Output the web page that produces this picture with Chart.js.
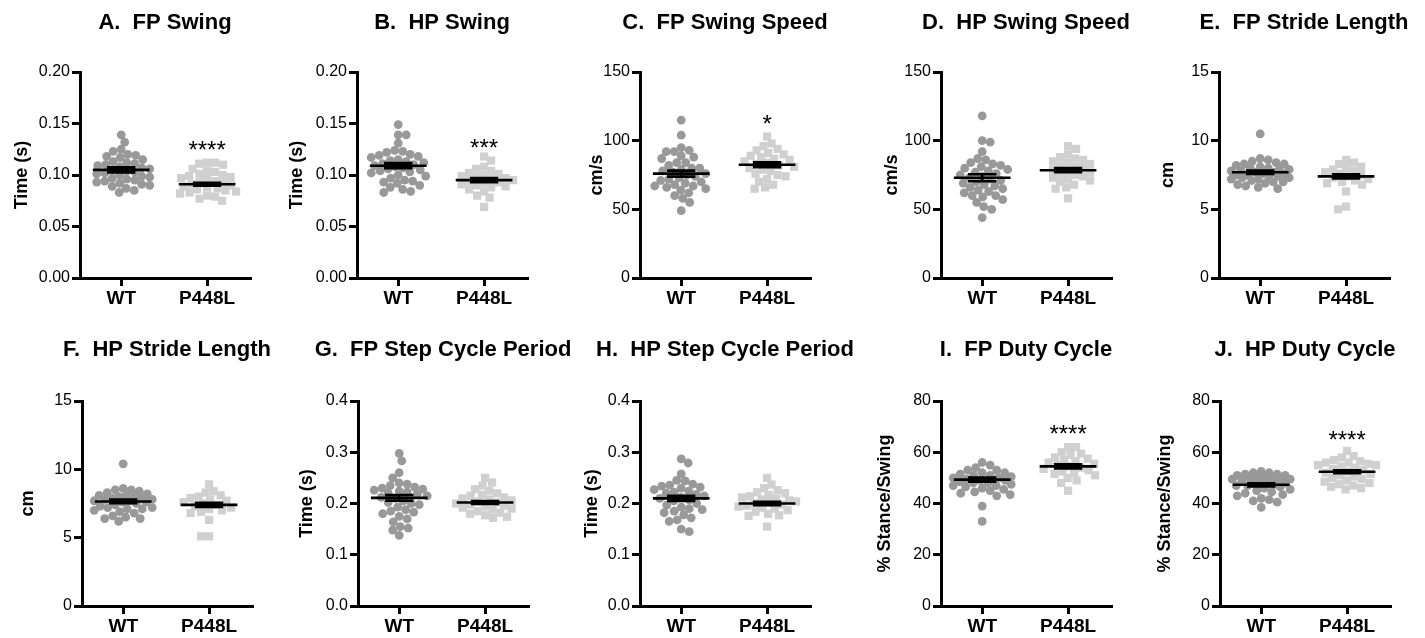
<!DOCTYPE html>
<html><head><meta charset="utf-8">
<script src="https://cdn.jsdelivr.net/npm/chart.js@4.4.1/dist/chart.umd.min.js"></script>
<style>
html,body{margin:0;padding:0;background:#fff;width:1425px;height:638px;overflow:hidden;position:relative}
canvas{position:absolute}
</style>
</head><body>
<script>
// ---------------- DATA ----------------
const categories = ['WT', 'P448L'];
const panelTitles = ['A.  FP Swing', 'B.  HP Swing', 'C.  FP Swing Speed', 'D.  HP Swing Speed', 'E.  FP Stride Length',
  'F.  HP Stride Length', 'G.  FP Step Cycle Period', 'H.  HP Step Cycle Period', 'I.  FP Duty Cycle', 'J.  HP Duty Cycle'];
const yTitles = ['Time (s)', 'Time (s)', 'cm/s', 'cm/s', 'cm', 'cm', 'Time (s)', 'Time (s)', '% Stance/Swing', '% Stance/Swing'];
const yTickLabels = [
  ['0.00', '0.05', '0.10', '0.15', '0.20'],
  ['0.00', '0.05', '0.10', '0.15', '0.20'],
  ['0', '50', '100', '150'],
  ['0', '50', '100', '150'],
  ['0', '5', '10', '15'],
  ['0', '5', '10', '15'],
  ['0.0', '0.1', '0.2', '0.3', '0.4'],
  ['0.0', '0.1', '0.2', '0.3', '0.4'],
  ['0', '20', '40', '60', '80'],
  ['0', '20', '40', '60', '80']
];

const wtA = [0.139, 0.132, 0.125, 0.123, 0.120, 0.119, 0.118, 0.117, 0.115, 0.113, 0.112, 0.111, 0.110, 0.109, 0.108, 0.107, 0.106, 0.105, 0.104, 0.103, 0.102, 0.101, 0.100, 0.099, 0.098, 0.097, 0.096, 0.095, 0.094, 0.093, 0.092, 0.091, 0.090, 0.089, 0.087, 0.085, 0.083];
const mutA = [0.112, 0.112, 0.111, 0.110, 0.106, 0.104, 0.103, 0.101, 0.100, 0.099, 0.098, 0.097, 0.096, 0.094, 0.093, 0.092, 0.091, 0.090, 0.089, 0.088, 0.087, 0.086, 0.085, 0.084, 0.083, 0.082, 0.080, 0.079, 0.077, 0.075];
const wtB = [0.149, 0.139, 0.139, 0.131, 0.124, 0.123, 0.122, 0.120, 0.119, 0.118, 0.117, 0.115, 0.114, 0.113, 0.112, 0.111, 0.110, 0.109, 0.108, 0.107, 0.106, 0.105, 0.104, 0.103, 0.102, 0.100, 0.099, 0.097, 0.095, 0.094, 0.093, 0.092, 0.090, 0.088, 0.086, 0.084, 0.083];
const mutB = [0.118, 0.114, 0.108, 0.106, 0.104, 0.102, 0.101, 0.100, 0.099, 0.098, 0.097, 0.096, 0.095, 0.094, 0.093, 0.092, 0.091, 0.090, 0.089, 0.088, 0.086, 0.084, 0.080, 0.078, 0.069];
const wtC = [115, 104, 95, 93, 92, 92, 89, 88, 87, 84, 84, 82, 80, 80, 79, 78, 77, 76, 75, 74, 73, 72, 71, 70, 69, 68, 67, 67, 66, 65, 64, 62, 60, 58, 55, 49];
const mutC = [103, 98, 96, 94, 93, 91, 90, 89, 88, 87, 86, 85, 84, 83, 82, 81, 80, 79, 78, 76, 75, 74, 72, 70, 68, 66, 65];
const wtD = [118, 100, 99, 92, 87, 86, 84, 83, 82, 81, 80, 79, 78, 77, 76, 75, 74, 73, 72, 71, 70, 69, 68, 67, 66, 65, 64, 63, 62, 60, 60, 59, 57, 55, 52, 50, 44];
const mutD = [96, 94, 90, 88, 87, 86, 85, 84, 83, 82, 81, 80, 79, 78, 77, 76, 75, 74, 73, 72, 71, 70, 68, 66, 65, 58];
const wtE = [10.5, 8.7, 8.6, 8.5, 8.4, 8.3, 8.3, 8.2, 8.1, 8.0, 8.0, 7.9, 7.9, 7.8, 7.8, 7.7, 7.7, 7.6, 7.6, 7.5, 7.5, 7.4, 7.4, 7.3, 7.3, 7.2, 7.2, 7.1, 7.0, 7.0, 6.9, 6.8, 6.7, 6.6, 6.5];
const mutE = [8.6, 8.4, 8.3, 8.1, 8.0, 7.9, 7.8, 7.7, 7.6, 7.5, 7.4, 7.3, 7.2, 7.1, 7.0, 6.9, 6.8, 6.3, 5.2, 5.0];
const wtF = [10.4, 8.6, 8.5, 8.5, 8.4, 8.3, 8.2, 8.1, 8.1, 8.0, 8.0, 7.9, 7.9, 7.8, 7.8, 7.7, 7.7, 7.6, 7.6, 7.5, 7.4, 7.3, 7.2, 7.2, 7.1, 7.1, 7.0, 6.9, 6.8, 6.6, 6.5, 6.4, 6.4, 6.2];
const mutF = [8.9, 8.4, 8.3, 8.1, 8.0, 7.9, 7.8, 7.7, 7.6, 7.5, 7.4, 7.3, 7.2, 7.1, 7.0, 6.9, 6.8, 6.3, 5.1, 5.1];
const wtG = [0.298, 0.283, 0.260, 0.250, 0.240, 0.238, 0.235, 0.232, 0.230, 0.228, 0.226, 0.224, 0.222, 0.220, 0.218, 0.215, 0.212, 0.210, 0.205, 0.202, 0.200, 0.198, 0.193, 0.188, 0.185, 0.183, 0.180, 0.175, 0.170, 0.164, 0.155, 0.152, 0.148, 0.138];
const mutG = [0.250, 0.241, 0.235, 0.228, 0.225, 0.220, 0.217, 0.215, 0.212, 0.210, 0.208, 0.206, 0.204, 0.202, 0.200, 0.198, 0.196, 0.194, 0.192, 0.190, 0.188, 0.185, 0.182, 0.180, 0.177, 0.174, 0.172];
const wtH = [0.287, 0.279, 0.258, 0.245, 0.244, 0.238, 0.236, 0.234, 0.232, 0.230, 0.227, 0.224, 0.222, 0.220, 0.218, 0.215, 0.212, 0.210, 0.207, 0.205, 0.200, 0.197, 0.193, 0.190, 0.188, 0.185, 0.182, 0.178, 0.172, 0.168, 0.165, 0.150, 0.145];
const mutH = [0.250, 0.237, 0.230, 0.226, 0.222, 0.220, 0.217, 0.214, 0.212, 0.210, 0.208, 0.206, 0.204, 0.202, 0.200, 0.198, 0.196, 0.194, 0.192, 0.190, 0.187, 0.184, 0.180, 0.177, 0.176, 0.155];
const wtI = [56, 55, 54, 53, 53, 52, 52, 51.5, 51, 51, 50.5, 50, 50, 49.5, 49, 49, 48.5, 48, 48, 47.5, 47, 47, 46.5, 46, 45.5, 45, 44.5, 44, 43.5, 43, 39, 33];
const mutI = [62, 62, 60, 59.5, 59, 58, 57.5, 57, 56.5, 56, 55.5, 55, 54.5, 54, 53.5, 53, 52.5, 52, 51.5, 51, 50, 49, 48, 45];
const wtJ = [52.5, 52, 52, 51.5, 51.5, 51, 51, 50.5, 50.5, 50, 50, 49.5, 49.5, 49, 49, 48.5, 48.5, 48, 48, 47.5, 47, 47, 46.5, 46, 45.5, 45, 44.5, 44, 43.5, 43, 42, 41.5, 41, 40.5, 38.5];
const mutJ = [60.5, 58.5, 58, 57, 56.5, 56, 56, 55.5, 55, 55, 54.5, 54, 53.5, 53, 52.5, 52, 51.5, 51, 50.5, 50, 49.5, 49, 48.5, 48, 47.5, 47, 46.5, 46, 45.5];

const meanWT  = [0.105, 0.109, 76, 73, 7.7, 7.65, 0.211, 0.210, 49.3, 47.3];
const semWT   = [0.0025, 0.0025, 2.2, 2.5, 0.13, 0.13, 0.0055, 0.005, 0.8, 0.6];
const meanMut = [0.091, 0.095, 82.5, 78.5, 7.4, 7.4, 0.202, 0.200, 54.5, 52.4];
const semMut  = [0.0015, 0.002, 1.8, 1.5, 0.15, 0.15, 0.003, 0.0035, 0.8, 0.6];
const sigLabels = ['****', '***', '*', '', '', '', '', '', '****', '****'];
const sigValues = [0.130, 0.132, 116.5, null, null, null, null, null, 69.6, 67];

const wtData  = [wtA, wtB, wtC, wtD, wtE, wtF, wtG, wtH, wtI, wtJ];
const mutData = [mutA, mutB, mutC, mutD, mutE, mutF, mutG, mutH, mutI, mutJ];

// ---------------- LAYOUT / STYLE ----------------
const FONT = '"Liberation Sans", Arial, Helvetica, sans-serif';
const X_MIN = 0.52, X_MAX = 2.5, AREA_W = 170, Y_AXIS_W = 80, EXTRA = 60;
const PX_PER_X = AREA_W / (X_MAX - X_MIN);
const MEAN_HALF = 0.33, CAP_HALF = 0.165;
const SWARM_DIAM = 8, SWARM_MAXHALF = 29;
const rows = [
  {top: 0,   h: 320, padTop: 72, xAxisH: 42, titleY: 29},
  {top: 320, h: 318, padTop: 81, xAxisH: 32, titleY: 36}
];
const axisLeft = [80, 357, 640, 941, 1219, 82, 358, 640, 941, 1220];
const yTitleX = [22, 20, 37, 31, 29, 26, 29, 32, 24, 25];
const WT_COLOR = '#999999', MUT_COLOR = '#d0d0d0';

function swarm(values, pxPerUnit, diam, maxHalf) {
  const order = values.map((v, i) => i).sort((a, b) => values[b] - values[a]);
  const placed = [], off = new Array(values.length);
  let flip = 1;
  for (const i of order) {
    const y = values[i] * pxPerUnit;
    let found = null, bestDx = 0, bestD = -1;
    for (let k = 0; k <= maxHalf * 2 && found === null; k++) {
      const cands = k === 0 ? [0] : [flip * k * 0.5, -flip * k * 0.5];
      for (const dx of cands) {
        let md = Infinity;
        for (const p of placed) md = Math.min(md, Math.hypot(p.x - dx, p.y - y));
        if (md >= diam) { found = dx; break; }
        if (md > bestD) { bestD = md; bestDx = dx; }
      }
    }
    if (found === null) found = bestDx;
    if (found !== 0) flip = -flip;
    placed.push({x: found, y}); off[i] = found;
  }
  return off;
}

const overlayPlugin = {
  id: 'overlay',
  afterDatasetsDraw(chart) {
    const o = chart.options.plugins.overlay;
    const xs = chart.scales.x, ys = chart.scales.y, ctx = chart.ctx;
    ctx.save();
    ctx.strokeStyle = '#000'; ctx.lineWidth = 2.6; ctx.lineCap = 'butt';
    o.groups.forEach((g, k) => {
      const c = k + 1;
      const yM = ys.getPixelForValue(g.mean);
      const yHi = ys.getPixelForValue(g.mean + g.sem), yLo = ys.getPixelForValue(g.mean - g.sem);
      ctx.beginPath();
      ctx.moveTo(xs.getPixelForValue(c - MEAN_HALF), yM); ctx.lineTo(xs.getPixelForValue(c + MEAN_HALF), yM);
      ctx.moveTo(xs.getPixelForValue(c), yHi); ctx.lineTo(xs.getPixelForValue(c), yLo);
      ctx.moveTo(xs.getPixelForValue(c - CAP_HALF), yHi); ctx.lineTo(xs.getPixelForValue(c + CAP_HALF), yHi);
      ctx.moveTo(xs.getPixelForValue(c - CAP_HALF), yLo); ctx.lineTo(xs.getPixelForValue(c + CAP_HALF), yLo);
      ctx.stroke();
    });
    if (o.sig) {
      const fs = 24;
      ctx.fillStyle = '#000'; ctx.font = fs + 'px ' + FONT; ctx.textAlign = 'center'; ctx.textBaseline = 'alphabetic';
      ctx.fillText(o.sig, xs.getPixelForValue(2), ys.getPixelForValue(o.sigValue) + 0.58 * fs);
    }
    const ca = chart.chartArea;
    ctx.fillStyle = '#000'; ctx.font = 'bold 22px ' + FONT; ctx.textAlign = 'center'; ctx.textBaseline = 'alphabetic';
    ctx.fillText(o.title, (ca.left + ca.right) / 2, o.titleY);
    ctx.restore();
  }
};

for (let p = 0; p < 10; p++) {
  const row = rows[p < 5 ? 0 : 1];
  const cv = document.createElement('canvas');
  const W = EXTRA + Y_AXIS_W + AREA_W + EXTRA;
  cv.width = W; cv.height = row.h;
  cv.style.left = (axisLeft[p] - Y_AXIS_W - EXTRA) + 'px'; cv.style.top = row.top + 'px';
  cv.style.width = W + 'px'; cv.style.height = row.h + 'px';
  document.body.appendChild(cv);

  const tickVals = yTickLabels[p].map(Number);
  const yMax = tickVals[tickVals.length - 1];
  const plotH = row.h - row.padTop - row.xAxisH;
  const pxPerY = plotH / yMax;
  const offW = swarm(wtData[p], pxPerY, SWARM_DIAM, SWARM_MAXHALF);
  const offM = swarm(mutData[p], pxPerY, SWARM_DIAM, SWARM_MAXHALF);

  new Chart(cv, {
    type: 'scatter',
    data: {
      datasets: [
        {label: categories[0], data: wtData[p].map((v, i) => ({x: 1 + offW[i] / PX_PER_X, y: v})),
          pointStyle: 'circle', pointRadius: 4.4, backgroundColor: WT_COLOR, borderWidth: 0, pointHoverRadius: 4.4},
        {label: categories[1], data: mutData[p].map((v, i) => ({x: 2 + offM[i] / PX_PER_X, y: v})),
          pointStyle: 'rect', pointRadius: 5.8, backgroundColor: MUT_COLOR, borderWidth: 0, pointHoverRadius: 5.8}
      ]
    },
    options: {
      responsive: false, animation: false, devicePixelRatio: 1,
      events: [],
      layout: {padding: {top: row.padTop, right: EXTRA, left: EXTRA, bottom: 0}},
      plugins: {
        legend: {display: false}, tooltip: {enabled: false},
        overlay: {
          groups: [{mean: meanWT[p], sem: semWT[p]}, {mean: meanMut[p], sem: semMut[p]}],
          sig: sigLabels[p], sigValue: sigValues[p], title: panelTitles[p], titleY: row.titleY
        }
      },
      scales: {
        x: {
          type: 'linear', min: X_MIN, max: X_MAX,
          afterBuildTicks: s => { s.ticks = [{value: 1}, {value: 2}]; },
          afterFit: s => { s.height = row.xAxisH; },
          ticks: {callback: v => categories[Math.round(v) - 1], color: '#000', font: {family: FONT, size: 19, weight: 'bold'}, padding: 1, maxRotation: 0, autoSkip: false},
          grid: {drawOnChartArea: false, drawTicks: true, tickLength: 8, lineWidth: 3, color: '#000'},
          border: {display: true, width: 3, color: '#000'}
        },
        y: {
          type: 'linear', min: 0, max: yMax,
          afterBuildTicks: s => { s.ticks = tickVals.map(v => ({value: v})); },
          afterFit: s => { s.width = Y_AXIS_W; },
          ticks: {callback: (v) => { const i = tickVals.findIndex(t => Math.abs(t - v) < 1e-9); return i >= 0 ? yTickLabels[p][i] : ''; },
            color: '#000', font: {family: FONT, size: 16}, padding: 2, autoSkip: false},
          grid: {drawOnChartArea: false, drawTicks: true, tickLength: 8, lineWidth: 3, color: '#000'},
          border: {display: true, width: 3, color: '#000'},
          title: {display: true, text: yTitles[p], color: '#000', font: {family: FONT, size: 18, weight: 'bold'},
            padding: {top: yTitleX[p] - 10.8, bottom: 0}}
        }
      }
    },
    plugins: [overlayPlugin]
  });
}
</script>
</body></html>
